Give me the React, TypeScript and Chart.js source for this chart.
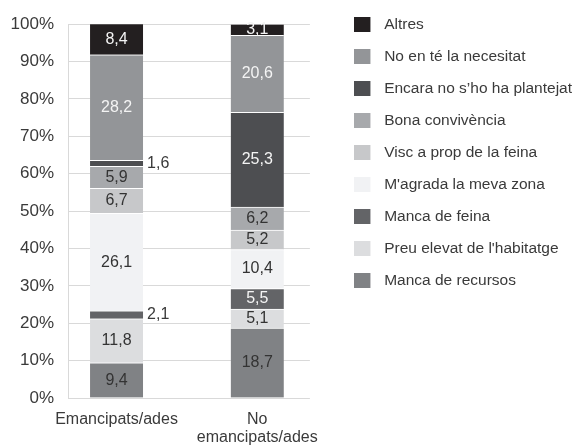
import React, { useEffect, useRef } from 'react';
import { Chart, registerables } from 'chart.js';

Chart.register(...registerables);

// ---- Data ----
const categories: string[][] = [['Emancipats/ades'], ['No', 'emancipats/ades']];
const categoryPositions = [0, 1];

const seriesNames = [
  'Manca de recursos',
  "Preu elevat de l'habitatge",
  'Manca de feina',
  "M'agrada la meva zona",
  'Visc a prop de la feina',
  'Bona convivència',
  'Encara no s’ho ha plantejat',
  'No en té la necesitat',
  'Altres',
];

const mancaRecursos = [9.4, 18.7];
const preuElevat = [11.8, 5.1];
const mancaFeina = [2.1, 5.5];
const magradaZona = [26.1, 10.4];
const viscProp = [6.7, 5.2];
const bonaConvivencia = [5.9, 6.2];
const encaraNo = [1.6, 25.3];
const noNecesitat = [28.2, 20.6];
const altres = [8.4, 3.1];

const seriesValues = [
  mancaRecursos,
  preuElevat,
  mancaFeina,
  magradaZona,
  viscProp,
  bonaConvivencia,
  encaraNo,
  noNecesitat,
  altres,
];

const seriesColors = [
  '#808285',
  '#dcdddf',
  '#636467',
  '#f1f2f4',
  '#c7c8ca',
  '#a7a9ac',
  '#4d4e51',
  '#939598',
  '#231f20',
];
const labelColors = ['#333333', '#333333', '#f4f4f4', '#333333', '#333333', '#333333', '#f4f4f4', '#f4f4f4', '#f4f4f4'];

const FONT = '"Liberation Sans", Arial, sans-serif';
const TEXT = '#3a3a3a';

const swatchCache: Record<string, HTMLCanvasElement> = {};
function swatch(color: string): HTMLCanvasElement {
  if (swatchCache[color]) return swatchCache[color];
  const c = document.createElement('canvas');
  c.width = 22;
  c.height = 15;
  const g = c.getContext('2d')!;
  g.fillStyle = color;
  g.fillRect(0, 0, 16, 15);
  swatchCache[color] = c;
  return c;
}

const valueLabels = {
  id: 'valueLabels',
  afterDatasetsDraw(chart: any) {
    const ctx = chart.ctx;
    ctx.save();
    ctx.font = `16px ${FONT}`;
    ctx.textBaseline = 'middle';
    chart.data.datasets.forEach((ds: any, i: number) => {
      const meta = chart.getDatasetMeta(i);
      meta.data.forEach((bar: any, j: number) => {
        const v = seriesValues[i][j];
        const { x, y, base, width } = bar.getProps(['x', 'y', 'base', 'width'], true);
        const cy = (y + base) / 2;
        const txt = v.toFixed(1).replace('.', ',');
        if (v < 2.5) {
          ctx.textAlign = 'left';
          ctx.fillStyle = TEXT;
          ctx.fillText(txt, x + width / 2 + 4, cy);
        } else {
          ctx.textAlign = 'center';
          ctx.fillStyle = labelColors[i];
          ctx.fillText(txt, x, cy);
        }
      });
    });
    ctx.restore();
  },
};

export default function App() {
  const ref = useRef<HTMLCanvasElement | null>(null);

  useEffect(() => {
    if (!ref.current) return;
    const datasets = seriesNames.map((name, i) => ({
      label: name,
      data: seriesValues[i].map((v, j) => ({ x: categoryPositions[j], y: v })),
      backgroundColor: seriesColors[i],
      borderColor: '#ffffff',
      borderWidth: { top: 1, left: 0, right: 0, bottom: 0 },
      borderSkipped: false,
      barThickness: 53,
      xAxisID: 'x',
      yAxisID: 'y',
    }));

    const chart = new Chart(ref.current, {
      type: 'bar',
      data: { datasets },
      options: {
        animation: false,
        responsive: false,
        maintainAspectRatio: false,
        layout: { padding: { left: 0, top: 0, bottom: 0, right: -7 } },
        plugins: {
          tooltip: { enabled: false },
          legend: {
            position: 'right',
            align: 'start',
            reverse: true,
            maxWidth: 320,
            labels: {
              font: { family: FONT, size: 15.5 },
              color: TEXT,
              padding: 16.5,
              usePointStyle: true,
              pointStyleWidth: 22,
              generateLabels: (c: any) =>
                (Chart.defaults.plugins.legend.labels.generateLabels as any)(c).map((item: any) => ({
                  ...item,
                  pointStyle: swatch(item.fillStyle as string),
                })),
            },
          },
        },
        scales: {
          x: {
            type: 'linear',
            position: 'bottom',
            stacked: true,
            offset: false,
            min: -0.345,
            max: 1.374,
            grid: { display: false, drawTicks: false },
            border: { display: false },
            afterBuildTicks: (axis: any) => {
              axis.ticks = categoryPositions.map((v) => ({ value: v }));
            },
            afterFit: (s: any) => {
              s.height = 47;
            },
            ticks: {
              autoSkip: false,
              maxRotation: 0,
              padding: 12,
              color: TEXT,
              font: { family: FONT, size: 16, lineHeight: 1.15 },
              callback: (value: any) => {
                const idx = categoryPositions.indexOf(Number(value));
                return idx >= 0 ? categories[idx] : '';
              },
            },
          },
          xTop: {
            type: 'linear',
            axis: 'x',
            position: 'top',
            grid: { display: false, drawTicks: false },
            border: { display: false },
            ticks: { display: false },
            afterFit: (s: any) => {
              s.height = 19;
            },
          },
          y: {
            type: 'linear',
            position: 'left',
            stacked: true,
            min: 0,
            max: 100,
            grid: { color: '#d9d9d9', lineWidth: 1, drawTicks: false },
            border: { display: true, color: '#d9d9d9' },
            afterFit: (s: any) => {
              s.width = 68;
            },
            ticks: {
              stepSize: 10,
              padding: 14,
              color: TEXT,
              font: { family: FONT, size: 17 },
              callback: (v: any) => `${v}%`,
            },
          },
          yRight: {
            type: 'linear',
            axis: 'y',
            position: 'right',
            grid: { display: false, drawTicks: false },
            border: { display: false },
            ticks: { display: false },
            afterFit: (s: any) => {
              s.width = 28;
            },
          },
        },
      } as any,
      plugins: [valueLabels],
    });
    return () => chart.destroy();
  }, []);

  return (
    <div style={{ position: 'fixed', left: 0, top: 0, width: 575, height: 445, background: '#ffffff' }}>
      <canvas ref={ref} width={575} height={445} style={{ display: 'block' }} />
    </div>
  );
}
